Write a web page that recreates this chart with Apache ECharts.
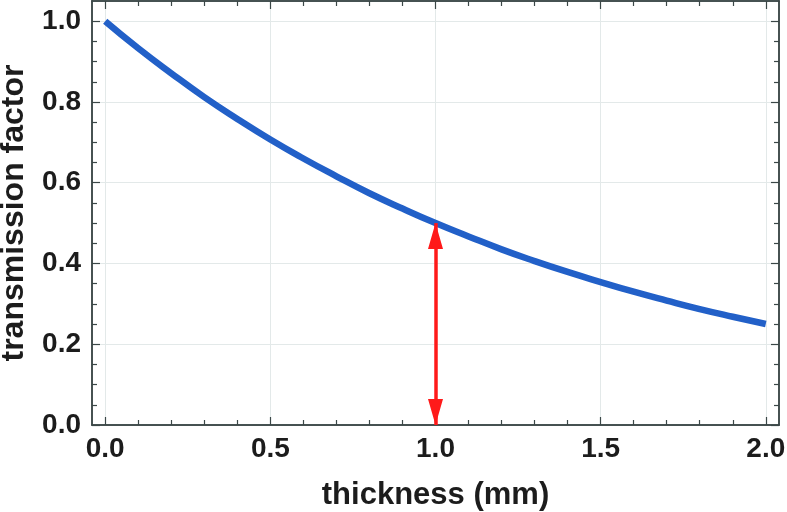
<!DOCTYPE html>
<html>
<head>
<meta charset="utf-8">
<script src="https://cdn.jsdelivr.net/npm/echarts@6/dist/echarts.min.js"></script>
<style>
  html, body { margin: 0; padding: 0; background: #fff; }
  #chartDom { width: 787px; height: 512px; }
</style>
</head>
<body>
<div id="chartDom"></div>
<script>
// data
const thickness = [0.0, 0.1, 0.2, 0.3, 0.4, 0.5, 0.6, 0.7, 0.8, 0.9, 1.0,
  1.1, 1.2, 1.3, 1.4, 1.5, 1.6, 1.7, 1.8, 1.9, 2.0];
const transmission = [1.0, 0.933, 0.871, 0.812, 0.758, 0.707, 0.66, 0.616, 0.574, 0.536, 0.5,
  0.467, 0.435, 0.406, 0.379, 0.354, 0.33, 0.308, 0.287, 0.268, 0.25];
const arrowX = 1.0;
const arrowFrom = 0.0;
const arrowTo = 0.5;

const xMajor = [0, 0.5, 1.0, 1.5, 2.0];
const xMinor = [0.1, 0.2, 0.3, 0.4, 0.6, 0.7, 0.8, 0.9, 1.1, 1.2, 1.3, 1.4, 1.6, 1.7, 1.8, 1.9];
const yMajor = [0, 0.2, 0.4, 0.6, 0.8, 1.0];
const yMinor = [0.05, 0.1, 0.15, 0.25, 0.3, 0.35, 0.45, 0.5, 0.55, 0.65, 0.7, 0.75, 0.85, 0.9, 0.95];

const frameColor = '#3b4747';
const font = 'Liberation Sans, Arial, sans-serif';
// triangle head whose tip sits at the centre of the symbol box
const headPath = 'path://M0,0L7.5,26L-7.5,26ZM0,-26L0.01,-26';

function axis(kind, pos, values, major, withLabel, extra) {
  const a = {
    type: 'value',
    position: pos,
    min: kind === 'x' ? -0.04 : 0,
    max: kind === 'x' ? 2.04 : 1.05,
    axisLine: { show: true, onZero: false, lineStyle: { color: frameColor, width: 1.5 } },
    axisTick: {
      show: true, inside: true, customValues: values,
      length: major ? 8 : 5,
      lineStyle: { color: frameColor, width: 1.2 }
    },
    axisLabel: withLabel ? {
      show: true, customValues: values,
      formatter: v => v.toFixed(1),
      fontFamily: font, fontWeight: 'bold', fontSize: 28, color: '#1c1c1c',
      margin: kind === 'x' ? 10 : 11
    } : { show: false },
    splitLine: withLabel ? { show: true, lineStyle: { color: '#e3e9e9', width: 1 } } : { show: false }
  };
  return Object.assign(a, extra || {});
}

const chart = echarts.init(document.getElementById('chartDom'));
chart.setOption({
  animation: false,
  backgroundColor: '#fff',
  grid: { left: 92, right: 8, top: 1, bottom: 87, containLabel: false, outerBoundsMode: 'none' },
  xAxis: [
    axis('x', 'bottom', xMajor, true, true, {
      name: 'thickness (mm)', nameLocation: 'middle', nameGap: 55,
      nameTextStyle: { fontFamily: font, fontWeight: 'bold', fontSize: 31, color: '#1c1c1c' }
    }),
    axis('x', 'bottom', xMinor, false, false),
    axis('x', 'top', xMajor, true, false),
    axis('x', 'top', xMinor, false, false)
  ],
  yAxis: [
    axis('y', 'left', yMajor, true, true, {
      name: 'transmission factor', nameLocation: 'middle', nameGap: 62,
      nameTextStyle: { fontFamily: font, fontWeight: 'bold', fontSize: 32, color: '#1c1c1c' }
    }),
    axis('y', 'left', yMinor, false, false),
    axis('y', 'right', yMajor, true, false),
    axis('y', 'right', yMinor, false, false)
  ],
  series: [
    {
      type: 'line',
      data: thickness.map((x, i) => [x, transmission[i]]),
      smooth: true,
      showSymbol: false,
      lineStyle: { color: '#2260c8', width: 6.5 },
      z: 3,
      markLine: {
        silent: true,
        symbol: [headPath, headPath],
        symbolSize: [15, 52],
        label: { show: false },
        lineStyle: { color: '#ff1a1a', width: 3.5, type: 'solid' },
        itemStyle: { color: '#ff1a1a' },
        data: [[{ coord: [arrowX, arrowFrom] }, { coord: [arrowX, arrowTo] }]]
      }
    }
  ]
});
</script>
</body>
</html>
